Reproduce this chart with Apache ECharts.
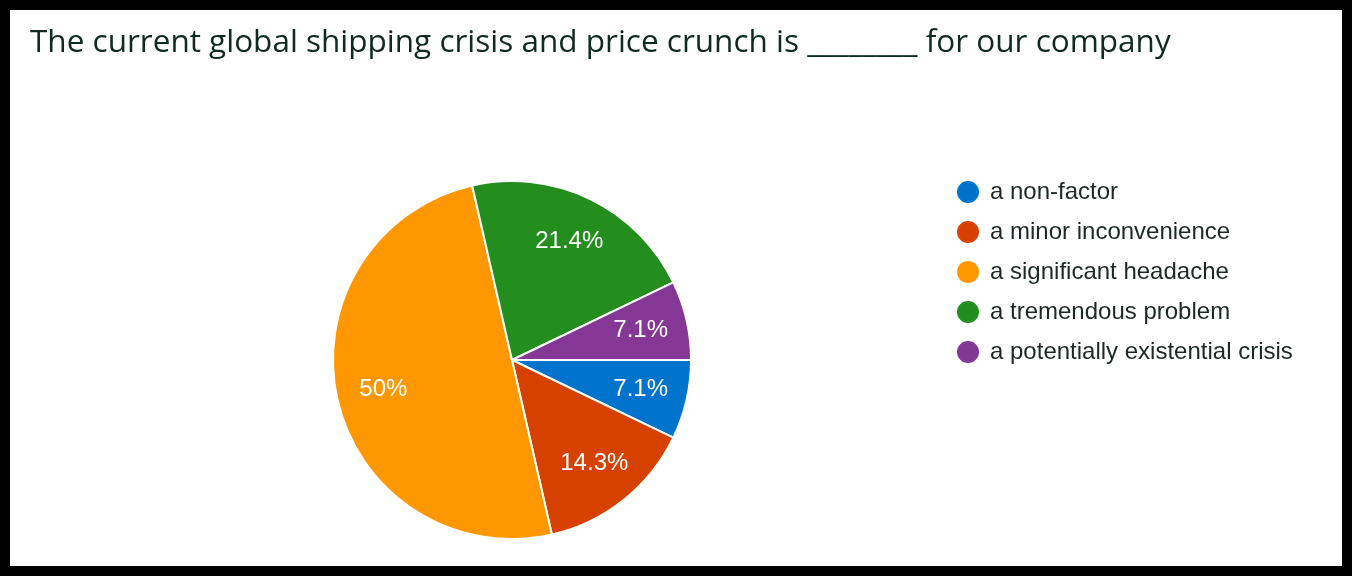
<!DOCTYPE html>
<html>
<head>
<meta charset="utf-8">
<script src="https://cdn.jsdelivr.net/npm/echarts@6/dist/echarts.min.js"></script>
<style>
  html, body { margin: 0; padding: 0; background: #000; }
  #wrap { width: 1352px; height: 576px; box-sizing: border-box; border: 10px solid #000; background: #fff; }
  #c_chart { width: 1332px; height: 556px; }
</style>
</head>
<body>
<div id="wrap"><div id="c_chart"></div></div>
<script>
var titleText = 'The current global shipping crisis and price crunch is ________ for our company';
var answers = ['a non-factor', 'a minor inconvenience', 'a significant headache', 'a tremendous problem', 'a potentially existential crisis'];
var counts = [1, 2, 7, 3, 1];
var colors = ['#0074cc', '#d74100', '#ff9700', '#238e1e', '#843795'];

var dm = document.getElementById('c_chart');
var ch = echarts.init(dm);

var slices = answers.map(function (a, i) {
    return { name: a, value: counts[i], itemStyle: { color: colors[i] } };
});
// second ring only carries the labels, so they sit out near the rim
var labelRing = answers.map(function (a, i) {
    return { name: a, value: counts[i] };
});

var option = {
    animation: false,
    title: {
        text: titleText,
        left: 20,
        top: 17,
        padding: 0,
        textStyle: {
            fontFamily: 'Open Sans',
            fontWeight: 'normal',
            fontSize: 31.5,
            color: '#0f2a20'
        }
    },
    legend: {
        orient: 'vertical',
        left: 945,
        top: 169,
        padding: 0,
        icon: 'circle',
        itemWidth: 24,
        itemHeight: 24,
        itemGap: 14,
        selectedMode: false,
        data: answers,
        textStyle: {
            fontFamily: 'Liberation Sans',
            fontSize: 24,
            lineHeight: 24,
            padding: [0, 0, 0, 5],
            color: '#1c2a23'
        }
    },
    series: [
        {
            type: 'pie',
            center: [502, 350],
            radius: [0, 179],
            startAngle: 0,
            clockwise: true,
            silent: true,
            data: slices,
            itemStyle: { borderColor: '#fff', borderWidth: 2 },
            label: { show: false },
            labelLine: { show: false }
        },
        {
            type: 'pie',
            center: [502, 350],
            radius: [79, 179],
            startAngle: 0,
            clockwise: true,
            silent: true,
            data: labelRing,
            itemStyle: { color: 'rgba(0,0,0,0)' },
            label: {
                show: true,
                position: 'inside',
                fontFamily: 'Liberation Sans',
                fontSize: 24,
                color: '#fff',
                formatter: function (p) {
                    return +p.percent.toFixed(1) + '%';
                }
            },
            labelLine: { show: false }
        }
    ]
};

ch.setOption(option);
window.onresize = function () {
    ch.resize();
};
</script>
</body>
</html>
